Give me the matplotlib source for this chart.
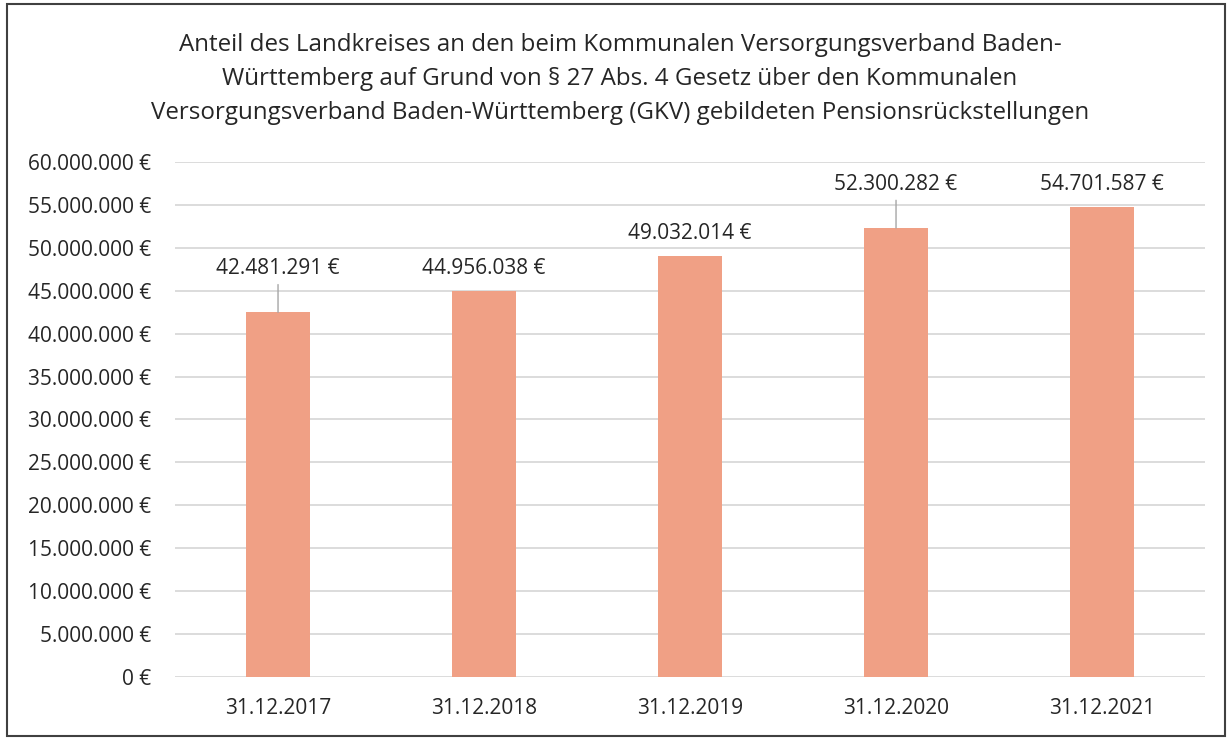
import matplotlib.pyplot as plt
from matplotlib.patches import Rectangle

plt.rcParams['font.family'] = ['Open Sans', 'DejaVu Sans']

# Daten
dates = ['31.12.2017', '31.12.2018', '31.12.2019', '31.12.2020', '31.12.2021']
values = [42481291, 44956038, 49032014, 52300282, 54701587]
leader = [True, False, False, True, False]

title = ('Anteil des Landkreises an den beim Kommunalen Versorgungsverband Baden-\n'
         'Württemberg auf Grund von § 27 Abs. 4 Gesetz über den Kommunalen\n'
         'Versorgungsverband Baden-Württemberg (GKV) gebildeten Pensionsrückstellungen')

TEXT = '#262626'
BAR = '#F0A085'
FS = 15


def euro(v):
    """ Formatiert eine Zahl im deutschen Stil mit Euro-Zeichen """
    return '{:,.0f} €'.format(v).replace(',', '.')


def main():
    fig = plt.figure(figsize=(12.3, 7.39), dpi=100)
    ax = fig.add_axes([0.1423, 0.0839, 0.8374, 0.6969])

    x = range(len(dates))
    ax.bar(x, values, width=0.31, color=BAR, zorder=3)

    ax.set_ylim(0, 60000000)
    ax.set_xlim(-0.5, len(dates) - 0.5)
    ticks = list(range(0, 60000001, 5000000))
    ax.set_yticks(ticks)
    ax.set_yticklabels([euro(t) for t in ticks])
    ax.set_xticks(list(x))
    ax.set_xticklabels(dates)
    ax.tick_params(axis='both', length=0, labelsize=FS, colors=TEXT)
    ax.tick_params(axis='y', pad=17)
    ax.tick_params(axis='x', pad=15)
    ax.grid(axis='y', color='#D9D9D9', linewidth=1.3, zorder=0)
    for s in ax.spines.values():
        s.set_visible(False)

    # Beschriftungen der Balken
    for i, v in enumerate(values):
        if leader[i]:
            ax.annotate(euro(v), xy=(i, v), xytext=(0, 24), textcoords='offset points',
                        ha='center', va='bottom', fontsize=FS, color=TEXT,
                        arrowprops=dict(arrowstyle='-', color='#A6A6A6', lw=1,
                                        shrinkA=2, shrinkB=0))
        else:
            ax.annotate(euro(v), xy=(i, v), xytext=(0, 9), textcoords='offset points',
                        ha='center', va='bottom', fontsize=FS, color=TEXT)

    fig.text(620 / 1230, 1 - 79 / 739, title, ha='center', va='center',
             fontsize=17.4, color=TEXT, linespacing=1.55)

    # Rahmen um die Grafik
    fig.patches.append(Rectangle((0.006, 0.004), 0.99, 0.99, transform=fig.transFigure,
                                 fill=False, edgecolor='#404040', linewidth=1.5))

    fig.savefig('out.png', dpi=100)


if __name__ == '__main__':
    main()
